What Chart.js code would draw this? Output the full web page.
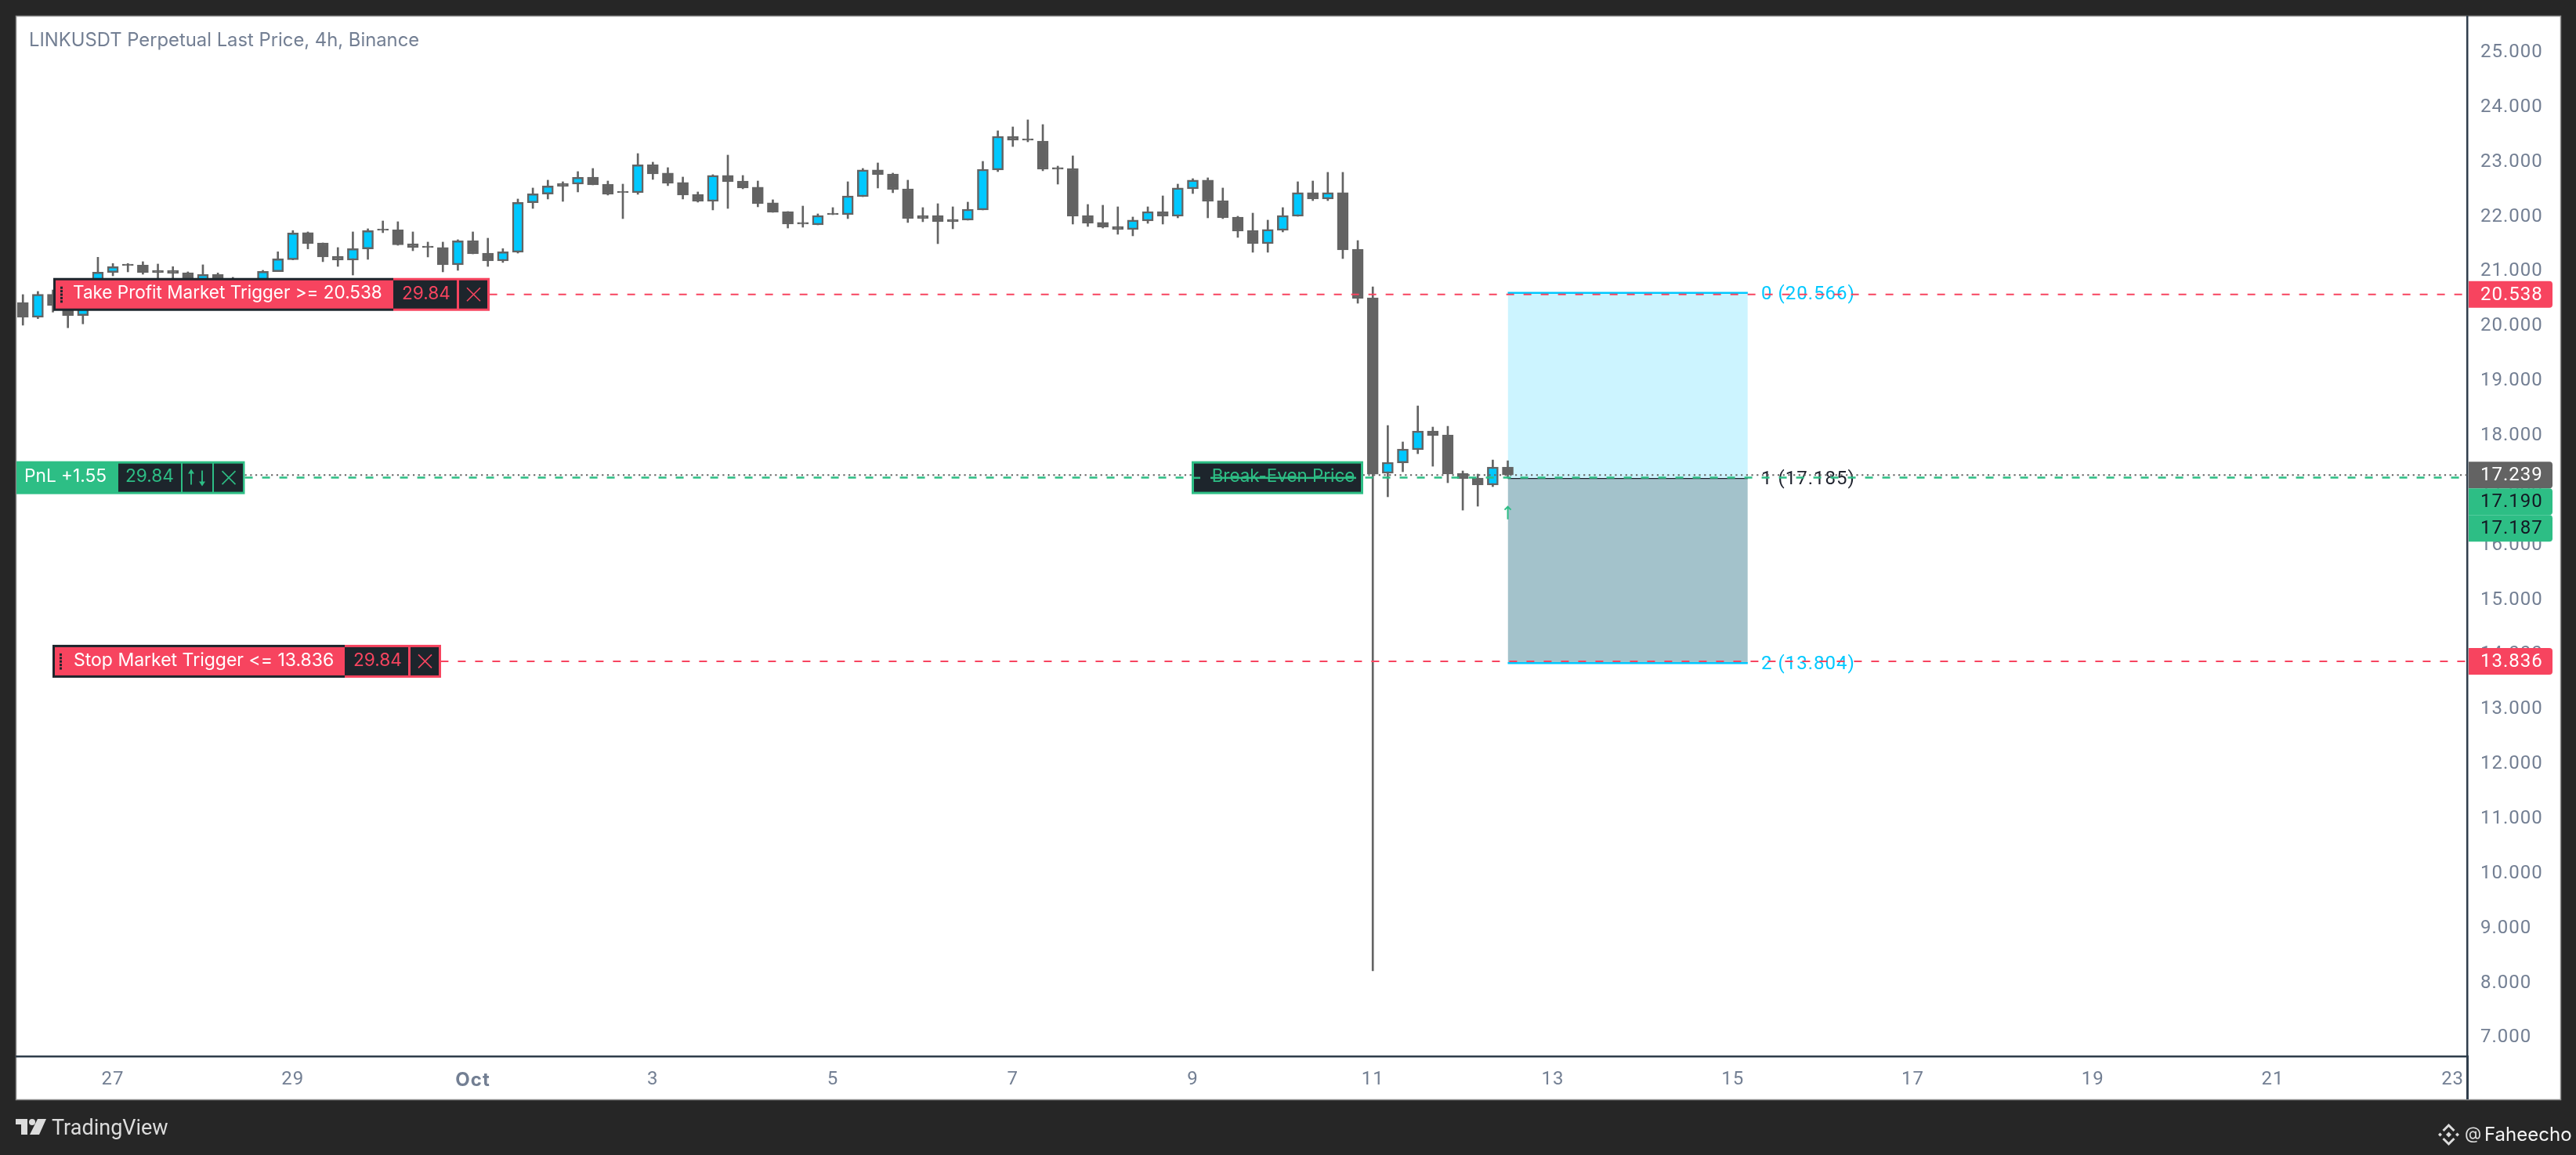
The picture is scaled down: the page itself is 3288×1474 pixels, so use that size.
<!DOCTYPE html>
<html>
<head>
<meta charset="utf-8">
<title>LINKUSDT</title>
<style>
    html, body { margin: 0; padding: 0; background: #262626; }
    canvas { display: block; }
</style>
<script src="https://cdn.jsdelivr.net/npm/chart.js@4"></script>
</head>
<body>
<canvas id="chart" width="3288" height="1474"></canvas>
<script>
// 4h candles, index 0 = Oct 1
const firstCandle = -30;
const opens = [
    20.39, 20.12, 20.54, 20.477, 20.153, 20.668, 20.94, 21.093, 21.074, 20.978,
    20.978, 20.935, 20.788, 20.902, 20.811, 20.716, 20.764, 20.954, 21.174, 21.666,
    21.479, 21.236, 21.164, 21.37, 21.732, 21.718, 21.465, 21.422, 21.394, 21.079,
    21.522, 21.293, 21.15, 21.308, 22.214, 22.372, 22.567, 22.553, 22.682, 22.553,
    22.42, 22.396, 22.911, 22.754, 22.582, 22.367, 22.238, 22.711, 22.61, 22.496,
    22.21, 22.052, 21.852, 21.809, 22.023, 21.995, 22.324, 22.811, 22.739, 22.467,
    21.98, 21.98, 21.909, 21.895, 22.081, 22.811, 23.426, 23.383, 23.34, 22.854,
    22.839, 21.98, 21.852, 21.78, 21.723, 21.88, 22.052, 21.966, 22.467, 22.625,
    22.252, 21.952, 21.708, 21.465, 21.708, 21.966, 22.396, 22.281, 22.396, 21.365,
    20.476, 17.27, 17.461, 17.70, 18.043, 17.972, 17.27, 17.184, 17.055, 17.385
];
const highs = [
    20.535, 20.592, 20.62, 20.597, 20.787, 21.217, 21.102, 21.102, 21.136, 21.093,
    21.045, 20.95, 21.079, 20.93, 20.85, 20.83, 20.978, 21.317, 21.704, 21.68,
    21.479, 21.394, 21.68, 21.737, 21.88, 21.866, 21.68, 21.494, 21.494, 21.537,
    21.68, 21.565, 21.374, 22.281, 22.482, 22.625, 22.596, 22.782, 22.839, 22.61,
    22.553, 23.111, 22.954, 22.854, 22.682, 22.41, 22.725, 23.083, 22.711, 22.61,
    22.267, 22.052, 22.152, 22.009, 22.124, 22.596, 22.839, 22.94, 22.754, 22.625,
    22.124, 22.195, 22.138, 22.224, 22.968, 23.527, 23.598, 23.727, 23.641, 22.882,
    23.069, 22.181, 22.167, 22.138, 21.952, 22.138, 22.338, 22.553, 22.653, 22.668,
    22.482, 21.966, 22.023, 21.895, 22.124, 22.596, 22.61, 22.768, 22.768, 21.522,
    20.677, 18.143, 17.843, 18.501, 18.115, 18.129, 17.313, 17.256, 17.513, 17.499
];
const lows = [
    19.976, 20.096, 20.215, 19.929, 20.0, 20.597, 20.878, 20.95, 20.907, 20.83,
    20.811, 20.74, 20.716, 20.716, 20.668, 20.67, 20.692, 20.954, 21.169, 21.37,
    21.136, 21.05, 20.892, 21.179, 21.666, 21.436, 21.336, 21.222, 20.95, 20.978,
    21.279, 21.05, 21.122, 21.293, 22.109, 22.281, 22.238, 22.41, 22.539, 22.353,
    21.923, 22.367, 22.639, 22.525, 22.281, 22.224, 22.081, 22.109, 22.467, 22.138,
    22.038, 21.751, 21.766, 21.809, 21.995, 21.923, 22.324, 22.482, 22.396, 21.852,
    21.866, 21.465, 21.737, 21.895, 22.081, 22.782, 23.24, 23.326, 22.797, 22.553,
    21.823, 21.78, 21.751, 21.637, 21.608, 21.837, 21.823, 21.937, 22.381, 21.937,
    21.923, 21.58, 21.308, 21.308, 21.68, 21.966, 22.252, 22.252, 21.193, 20.377,
    8.18, 16.841, 17.299, 17.628, 17.399, 17.098, 16.597, 16.669, 17.027, 17.184
];
const closes = [
    20.12, 20.54, 20.334, 20.153, 20.668, 20.945, 21.045, 21.064, 20.935, 20.935,
    20.921, 20.788, 20.902, 20.764, 20.716, 20.788, 20.959, 21.188, 21.661, 21.465,
    21.222, 21.164, 21.374, 21.704, 21.708, 21.446, 21.394, 21.394, 21.079, 21.518,
    21.279, 21.15, 21.317, 22.219, 22.377, 22.52, 22.51, 22.677, 22.539, 22.367,
    22.396, 22.906, 22.739, 22.567, 22.353, 22.238, 22.711, 22.596, 22.482, 22.195,
    22.038, 21.823, 21.823, 21.98, 21.995, 22.338, 22.811, 22.725, 22.453, 21.923,
    21.923, 21.866, 21.866, 22.095, 22.825, 23.426, 23.355, 23.355, 22.825, 22.825,
    21.966, 21.837, 21.766, 21.723, 21.895, 22.052, 21.966, 22.482, 22.625, 22.238,
    21.937, 21.694, 21.465, 21.723, 21.98, 22.396, 22.281, 22.396, 21.351, 20.463,
    17.255, 17.471, 17.714, 18.043, 17.957, 17.256, 17.17, 17.055, 17.385, 17.239
];

// axes
const dayTicks = [-24, -12, 0, 12, 24, 36, 48, 60, 72, 84, 96, 108, 120, 132];
const dayLabels = ['27', '29', 'Oct', '3', '5', '7', '9', '11', '13', '15', '17', '19', '21', '23'];
const priceTicks = [7, 8, 9, 10, 11, 12, 13, 14, 15, 16, 17, 18, 19, 20, 21, 22, 23, 24, 25];

// orders and position tool
const takeProfit = 20.538;
const stopLoss = 13.836;
const lastPrice = 17.239;
const entryA = 17.190;
const entryB = 17.187;
const levels = [20.566, 17.185, 13.804];
const boxFrom = 69;
const boxTo = 85;

const RED = '#f7445f';
const GREEN = '#2dbe85';
const CYAN = '#00c8ff';
const CANDLE = '#636363';
const DARK = '#1d252c';
const AXIS_TEXT = '#737f93';
const FONT = 'Inter, "Noto Sans", sans-serif';
const NUM_FONT = 'Roboto, Inter, sans-serif';

const xMin = -30.43, xMax = 132.96;

function hLine(y, from, to, color, width, dash, order) {
    return {
        type: 'line',
        data: [{ x: from, y: y }, { x: to, y: y }],
        borderColor: color,
        borderWidth: width,
        borderDash: dash,
        pointRadius: 0,
        order: order
    };
}

function fillBand(top, bottom, lineColor, fillColor) {
    const d = hLine(top, boxFrom, boxTo, lineColor, 2.5, [], 5);
    d.fill = { value: bottom };
    d.backgroundColor = fillColor;
    return d;
}

// price tag on the axis
function drawTag(ctx, cy, text, bg, fg) {
    ctx.fillStyle = bg;
    ctx.beginPath();
    ctx.roundRect(3151, cy - 17, 107, 34, [0, 4, 4, 0]);
    ctx.fill();
    ctx.fillStyle = fg;
    ctx.font = '24px ' + NUM_FONT;
    ctx.letterSpacing = '1px';
    ctx.textAlign = 'left';
    ctx.textBaseline = 'middle';
    ctx.fillText(text, 3166, cy + 1);
    ctx.letterSpacing = '0px';
}

function drawCross(ctx, cx, cy, color) {
    ctx.strokeStyle = color;
    ctx.lineWidth = 1.6;
    ctx.beginPath();
    ctx.moveTo(cx - 8.5, cy - 8.5);
    ctx.lineTo(cx + 8.5, cy + 8.5);
    ctx.moveTo(cx + 8.5, cy - 8.5);
    ctx.lineTo(cx - 8.5, cy + 8.5);
    ctx.stroke();
}

// red order chip: label + quantity + close button
function drawOrderChip(ctx, cy, left, redEnd, divider, right, text, textX, size) {
    const top = cy - 21, h = 42;
    ctx.fillStyle = RED;
    ctx.fillRect(redEnd, top, right - redEnd, h);
    ctx.fillStyle = DARK;
    ctx.fillRect(redEnd, top + 3, divider - redEnd - 1, h - 6);
    ctx.fillRect(divider + 2, top + 3, right - divider - 5, h - 6);
    ctx.fillRect(left, top, redEnd - left, h);
    ctx.fillStyle = RED;
    ctx.fillRect(left + 3, top + 3, redEnd - left - 3, h - 6);

    ctx.fillStyle = DARK;
    for (let i = 0; i < 5; i++) {
        ctx.fillRect(left + 9, cy - 10 + i * 4.4, 3, 3);
    }
    ctx.fillStyle = '#ffffff';
    ctx.font = size + 'px ' + FONT;
    ctx.textAlign = 'left';
    ctx.textBaseline = 'middle';
    ctx.fillText(text, textX, cy - 1);

    ctx.fillStyle = RED;
    ctx.textAlign = 'center';
    ctx.font = '22.7px ' + FONT;
    ctx.fillText('29.84', (redEnd + divider) / 2 + 1, cy - 1);
    drawCross(ctx, (divider + right) / 2, cy, RED);
}

function drawPnlChip(ctx, cy) {
    const top = cy - 21, h = 42;
    ctx.fillStyle = GREEN;
    ctx.fillRect(21, top, 291.5, h);
    ctx.fillStyle = DARK;
    ctx.fillRect(151, top + 3, 80, h - 6);
    ctx.fillRect(233, top + 3, 38, h - 6);
    ctx.fillRect(273, top + 3, 37, h - 6);

    ctx.fillStyle = '#ffffff';
    ctx.font = '22.7px ' + FONT;
    ctx.textAlign = 'left';
    ctx.textBaseline = 'middle';
    ctx.fillText('PnL +1.55', 31, cy - 1);
    ctx.fillStyle = GREEN;
    ctx.textAlign = 'center';
    ctx.fillText('29.84', 191, cy - 1);

    // up / down arrows
    ctx.strokeStyle = GREEN;
    ctx.lineWidth = 1.8;
    ctx.beginPath();
    ctx.moveTo(244, cy - 9);
    ctx.lineTo(244, cy + 9);
    ctx.moveTo(258, cy - 9);
    ctx.lineTo(258, cy + 9);
    ctx.stroke();
    ctx.fillStyle = GREEN;
    ctx.beginPath();
    ctx.moveTo(244, cy - 11);
    ctx.lineTo(240, cy - 5);
    ctx.lineTo(248, cy - 5);
    ctx.closePath();
    ctx.moveTo(258, cy + 11);
    ctx.lineTo(254, cy + 5);
    ctx.lineTo(262, cy + 5);
    ctx.closePath();
    ctx.fill();
    drawCross(ctx, 292, cy, GREEN);
}

function drawBreakEven(ctx, cy) {
    ctx.fillStyle = GREEN;
    ctx.fillRect(1521, cy - 21, 219, 42);
    ctx.fillStyle = DARK;
    ctx.fillRect(1524, cy - 18, 213, 36);
    ctx.fillStyle = GREEN;
    ctx.font = '22.4px ' + FONT;
    ctx.textAlign = 'center';
    ctx.textBaseline = 'middle';
    ctx.fillText('Break-Even Price', 1638, cy - 1);
    // the dashed price line runs through the label
    ctx.fillRect(1523, cy - 1, 9, 2.5);
    ctx.fillRect(1545, cy - 1, 186, 2.5);
}

function drawLogo(ctx) {
    ctx.fillStyle = '#dcdcdc';
    ctx.fillRect(20, 1428, 15, 7);
    ctx.fillRect(27, 1428, 8, 20);
    ctx.beginPath();
    ctx.arc(41, 1432, 4, 0, Math.PI * 2);
    ctx.fill();
    ctx.beginPath();
    ctx.moveTo(48, 1428);
    ctx.lineTo(59, 1428);
    ctx.lineTo(50, 1448);
    ctx.lineTo(38, 1448);
    ctx.closePath();
    ctx.fill();
    ctx.font = '27px Roboto, ' + FONT;
    ctx.textAlign = 'left';
    ctx.textBaseline = 'middle';
    ctx.fillText('TradingView', 66, 1441);
}

function drawDiamond(ctx, cx, cy, r) {
    ctx.beginPath();
    ctx.moveTo(cx, cy - r);
    ctx.lineTo(cx + r, cy);
    ctx.lineTo(cx, cy + r);
    ctx.lineTo(cx - r, cy);
    ctx.closePath();
    ctx.fill();
}

function drawCredit(ctx) {
    const cx = 3125.5, cy = 1448;
    ctx.fillStyle = '#dcdcdc';
    drawDiamond(ctx, cx, cy, 3.5);
    drawDiamond(ctx, cx - 11, cy, 2.5);
    drawDiamond(ctx, cx + 11, cy, 2.5);
    ctx.strokeStyle = '#dcdcdc';
    ctx.lineWidth = 3;
    ctx.beginPath();
    ctx.moveTo(cx - 7, cy - 5);
    ctx.lineTo(cx, cy - 12);
    ctx.lineTo(cx + 7, cy - 5);
    ctx.moveTo(cx - 7, cy + 5);
    ctx.lineTo(cx, cy + 12);
    ctx.lineTo(cx + 7, cy + 5);
    ctx.stroke();
    ctx.font = '22px ' + FONT;
    ctx.textAlign = 'left';
    ctx.textBaseline = 'middle';
    ctx.fillText('@', 3146, 1447);
    ctx.fillStyle = '#f4f4f4';
    ctx.font = '24px ' + FONT;
    ctx.fillText('Faheecho', 3171, 1449);
}

const chrome = {
    id: 'chrome',
    beforeDraw(chart) {
        const ctx = chart.ctx;
        ctx.fillStyle = '#262626';
        ctx.fillRect(0, 0, 3288, 1474);
        ctx.fillStyle = '#ffffff';
        ctx.fillRect(21, 21, 3247, 1382);
        ctx.strokeStyle = '#8a8a8a';
        ctx.lineWidth = 1.5;
        ctx.strokeRect(20.5, 20.5, 3248, 1383);
        // axis tick numbers are slightly tracked out
        ctx.letterSpacing = '1px';
    },
    beforeDatasetsDraw(chart) {
        const ctx = chart.ctx;
        const y = chart.scales.y;
        ctx.save();
        ctx.letterSpacing = '0px';
        ctx.fillStyle = AXIS_TEXT;
        ctx.font = '23.8px ' + FONT;
        ctx.textAlign = 'left';
        ctx.textBaseline = 'middle';
        ctx.fillText('LINKUSDT Perpetual Last Price, 4h, Binance', 37, 52);

        // fib level texts sit under the price lines
        ctx.font = '24px ' + NUM_FONT;
        ctx.letterSpacing = '1px';
        levels.forEach(function(v, i) {
            ctx.fillStyle = i === 1 ? '#1e222d' : CYAN;
            ctx.fillText(i + ' (' + v.toFixed(3) + ')', 2248, y.getPixelForValue(v) + 2);
        });
        ctx.restore();
    },
    afterDraw(chart) {
        const ctx = chart.ctx;
        const y = chart.scales.y;
        const x = chart.scales.x;
        ctx.save();
        ctx.letterSpacing = '0px';

        // axis line goes on down through the time axis
        ctx.fillStyle = '#2f3d4b';
        ctx.fillRect(3148, 1347, 3, 56);

        const cyLast = y.getPixelForValue(lastPrice);
        drawTag(ctx, y.getPixelForValue(takeProfit), takeProfit.toFixed(3), RED, '#ffffff');
        drawTag(ctx, y.getPixelForValue(stopLoss), stopLoss.toFixed(3), RED, '#ffffff');
        drawTag(ctx, cyLast, lastPrice.toFixed(3), CANDLE, '#ffffff');
        drawTag(ctx, cyLast + 34, entryA.toFixed(3), GREEN, '#131722');
        drawTag(ctx, cyLast + 68, entryB.toFixed(3), GREEN, '#131722');

        drawOrderChip(ctx, y.getPixelForValue(takeProfit), 68, 502, 584, 625,
            'Take Profit Market Trigger >= 20.538', 93, 22.5);
        drawOrderChip(ctx, y.getPixelForValue(stopLoss), 67, 440, 522, 563,
            'Stop Market Trigger <= 13.836', 94, 23);
        drawPnlChip(ctx, y.getPixelForValue(entryA));
        drawBreakEven(ctx, y.getPixelForValue(entryA));

        // entry arrow under the last candle
        const ax = x.getPixelForValue(boxFrom);
        const ay = y.getPixelForValue(16.66);
        ctx.strokeStyle = GREEN;
        ctx.lineWidth = 2;
        ctx.beginPath();
        ctx.moveTo(ax, ay + 16);
        ctx.lineTo(ax, ay);
        ctx.moveTo(ax - 4, ay + 4);
        ctx.lineTo(ax, ay);
        ctx.lineTo(ax + 4, ay + 4);
        ctx.stroke();

        drawLogo(ctx);
        drawCredit(ctx);
        ctx.restore();
    }
};

function initChart() {
    const wicks = highs.map(function(h, i) {
        return { x: firstCandle + i, y: [lows[i], h] };
    });
    const bodies = opens.map(function(o, i) {
        return { x: firstCandle + i, y: [o, closes[i]] };
    });
    const bodyColors = opens.map(function(o, i) {
        return closes[i] >= o ? CYAN : CANDLE;
    });

    new Chart(document.getElementById('chart').getContext('2d'), {
        type: 'bar',
        data: {
            datasets: [
                fillBand(levels[0], levels[1], CYAN, '#ccf4ff'),
                fillBand(levels[1], levels[2], '#1e222d', '#a3c2cb'),
                hLine(levels[2], boxFrom, boxTo, CYAN, 2.5, [], 4.5),
                {
                    data: wicks,
                    backgroundColor: CANDLE,
                    barThickness: 2,
                    grouped: false,
                    order: 4
                },
                {
                    data: bodies,
                    backgroundColor: bodyColors,
                    borderColor: CANDLE,
                    borderWidth: 2.5,
                    borderSkipped: false,
                    barThickness: 14,
                    grouped: false,
                    order: 3
                },
                hLine(lastPrice, -15.2, xMax, CANDLE, 2, [2.2, 4.5], 2),
                hLine(entryA, -15.2, xMax, GREEN, 2.5, [10, 12], 1),
                hLine(takeProfit, 1.1, xMax, RED, 2, [10, 12], 1),
                hLine(stopLoss, -2.15, xMax, RED, 2, [10, 12], 1)
            ]
        },
        options: {
            responsive: false,
            animation: false,
            devicePixelRatio: 1,
            layout: { padding: { left: 21, top: 21, right: 20, bottom: 71 } },
            plugins: { legend: { display: false }, tooltip: { enabled: false } },
            scales: {
                x: {
                    type: 'linear',
                    offset: false,
                    min: xMin,
                    max: xMax,
                    afterFit: function(scale) {
                        scale.height = 55;
                        scale.paddingLeft = 0;
                        scale.paddingRight = 0;
                    },
                    afterBuildTicks: function(scale) {
                        scale.ticks = dayTicks.map(function(v) { return { value: v }; });
                    },
                    grid: { display: false, drawTicks: false },
                    border: { color: '#2f3d4b', width: 2.5 },
                    ticks: {
                        autoSkip: false,
                        maxRotation: 0,
                        padding: 16,
                        color: AXIS_TEXT,
                        font: function(c) {
                            const isMonth = c.tick && c.tick.value === 0;
                            return {
                                family: isMonth ? FONT : NUM_FONT,
                                size: 24,
                                weight: isMonth ? 'bold' : 'normal'
                            };
                        },
                        callback: function(value) {
                            return dayLabels[dayTicks.indexOf(value)];
                        }
                    }
                },
                y: {
                    type: 'linear',
                    position: 'right',
                    min: 6.62,
                    max: 25.616,
                    afterFit: function(scale) {
                        scale.width = 119;
                        scale.paddingTop = 0;
                        scale.paddingBottom = 0;
                    },
                    afterBuildTicks: function(scale) {
                        scale.ticks = priceTicks.map(function(v) { return { value: v }; });
                    },
                    grid: { display: false, drawTicks: false },
                    border: { color: '#2f3d4b', width: 2.5 },
                    ticks: {
                        autoSkip: false,
                        padding: 17,
                        labelOffset: 3,
                        color: AXIS_TEXT,
                        font: { family: NUM_FONT, size: 24 },
                        callback: function(value) { return value.toFixed(3); }
                    }
                }
            }
        },
        plugins: [chrome]
    });
}

document.addEventListener('DOMContentLoaded', initChart);
</script>
</body>
</html>
